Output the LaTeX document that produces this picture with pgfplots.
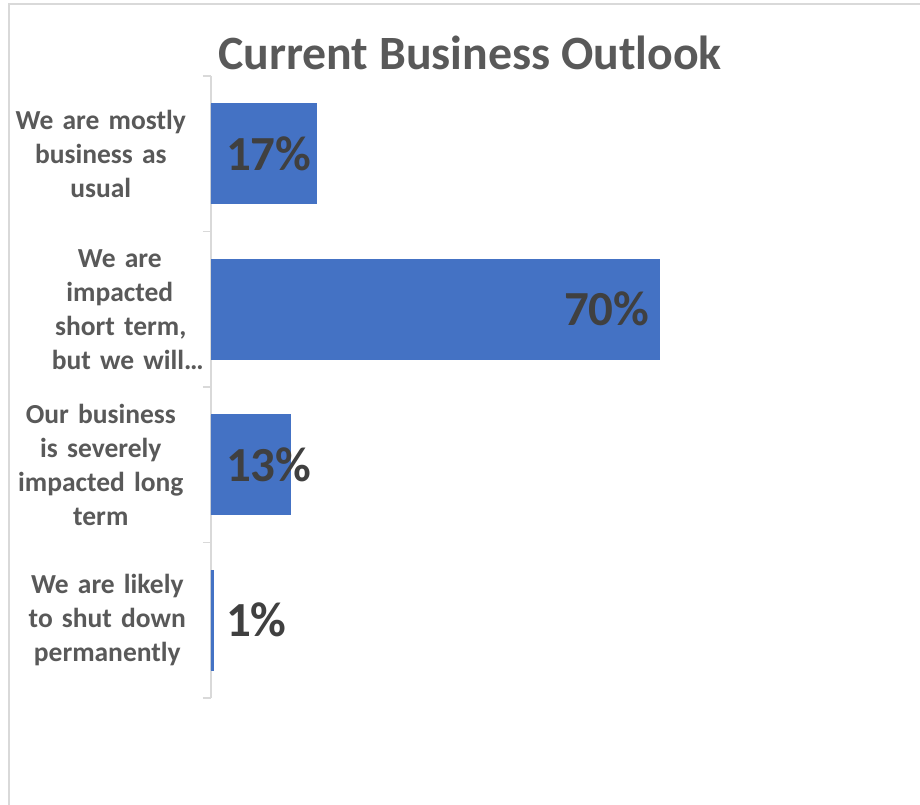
\documentclass[border=0pt]{standalone}
\usepackage{fontspec}
\setmainfont{Carlito}
\usepackage{pgfplots}
\pgfplotsset{compat=1.18}
\usepackage{pgfplotstable}

\definecolor{barblue}{HTML}{4472C4}
\definecolor{txtgray}{HTML}{595959}
\definecolor{lblgray}{HTML}{404040}
\definecolor{axgray}{HTML}{D9D9D9}

% share of respondents, category position 0 = top
\pgfplotstableread{
pos value
0 17
2 13
3 1
}\smallbars
\pgfplotstableread{
pos value
1 70
}\bigbar

\begin{document}
\begin{tikzpicture}
\path[fill=white] (0,0) rectangle (920pt,805pt);
\draw[axgray, line width=2pt] (8.5pt,0pt) -- (8.5pt,800.5pt) -- (920pt,800.5pt);
\node[anchor=base, text=txtgray, inner sep=0pt,
      font=\fontsize{47.8}{57}\selectfont\bfseries] at (470pt,735pt) {Current Business Outlook};

\begin{axis}[
    at={(211pt,107pt)}, anchor=south west,
    scale only axis,
    width=641.3pt, height=622pt,
    xbar, bar width=100pt,
    xmin=0.72, xmax=99.72,
    ymin=-0.5, ymax=3.5, y dir=reverse,
    axis x line=none,
    axis y line*=left,
    y axis line style={axgray, line width=1.5pt, -},
    xtick=\empty,
    ytick={0,1,2,3},
    yticklabels={
        {We are mostly\\business as\\usual},
        {\hspace*{38pt}We are\\\hspace*{38pt}impacted\\\hspace*{40pt}short term,\\\hspace*{54pt}but we will…},
        {Our business\\is severely\\impacted long\\term},
        {\hspace*{13pt}We are likely\\\hspace*{13pt}to shut down\\\hspace*{13pt}permanently}
    },
    minor ytick={-0.5,0.5,1.5,2.5,3.5},
    major tick length=0pt,
    minor tick length=8pt,
    tick align=outside,
    tick pos=left,
    minor tick style={axgray, line width=1.5pt},
    yticklabel style={anchor=east, inner sep=0pt, xshift=0pt,
        text width=220pt, align=center, text=txtgray,
        font=\fontsize{27.5}{34}\selectfont\bfseries},
    point meta=x,
    /pgf/number format/assume math mode=true,
    nodes near coords={\pgfmathprintnumber{\pgfplotspointmeta}\%},
]
\addplot[fill=barblue, draw=barblue, line width=0.6pt, bar shift=0pt,
    visualization depends on={\thisrow{value} \as \xv},
    nodes near coords style={anchor=west, inner sep=0pt,
        xshift={13pt-(\xv-1)*6.478pt}, text=lblgray,
        font=\fontsize{49}{58}\selectfont\bfseries}]
    table[x=value, y=pos] {\smallbars};
\addplot[fill=barblue, draw=barblue, line width=0.6pt, bar shift=0pt,
    nodes near coords style={anchor=east, inner sep=0pt, xshift=-10pt,
        text=lblgray, font=\fontsize{49}{58}\selectfont\bfseries}]
    table[x=value, y=pos] {\bigbar};
\end{axis}

\pgfresetboundingbox
\path[use as bounding box] (0,0) rectangle (920pt,805pt);
\end{tikzpicture}
\end{document}
